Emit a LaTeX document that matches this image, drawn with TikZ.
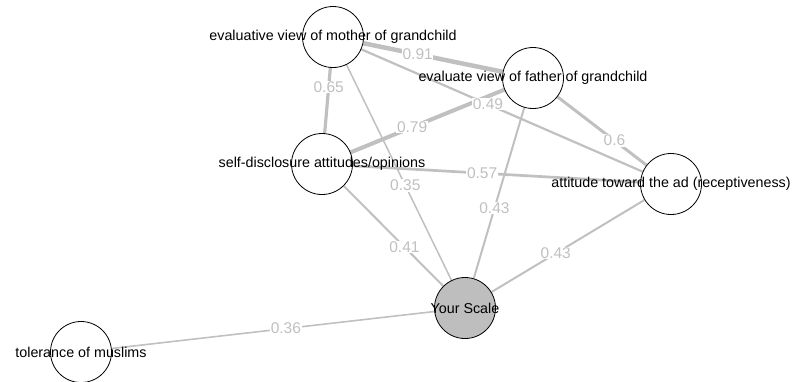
\documentclass[tikz,border=0pt]{standalone}
\usepackage{fontspec}
\setmainfont{Liberation Sans}
\usetikzlibrary{backgrounds}
\definecolor{EdgeGray}{RGB}{192,192,192}
\definecolor{ScaleGray}{RGB}{190,190,190}

\begin{document}
\begin{tikzpicture}[x=1pt,y=-1pt,
  var/.style={circle,draw=black,line width=0.8pt,fill=white,minimum size=61pt,inner sep=0pt},
  txt/.style={font=\fontsize{14.3}{16}\selectfont,inner sep=0pt},
  wt/.style={font=\fontsize{15.5}{17}\selectfont,text=EdgeGray,fill=white,inner sep=0.6pt}]
\useasboundingbox (0,0) rectangle (792,381);
\node[var,label={[txt]center:evaluative view of mother of grandchild}] (mom) at (333,37) {};
\node[var,label={[txt]center:evaluate view of father of grandchild}] (dad) at (533,78) {};
\node[var,label={[txt]center:self-disclosure attitudes/opinions}] (self) at (322,164) {};
\node[var,label={[txt]center:attitude toward the ad (receptiveness)}] (ad) at (671,184) {};
\node[var,fill=ScaleGray,label={[txt]center:Your Scale}] (your) at (465,308) {};
\node[var,label={[txt]center:tolerance of muslims}] (tol) at (81,352) {};
% weighted edges
\begin{scope}[on background layer]
\foreach \a/\b/\w/\v/\p in {mom/dad/4.5/0.91/.39,mom/self/3.2/0.65/.29,self/dad/4/0.79/.40,
  mom/ad/2.2/0.49/.45,dad/ad/3/0.6/.64,self/ad/2.7/0.57/.45,mom/your/1.5/0.35/.56,
  dad/your/2/0.43/.59,self/your/2/0.41/.61,ad/your/2/0.43/.58,tol/your/1.6/0.36/.54}{
\draw[EdgeGray,line width=\w pt] (\a)--(\b) node[wt,pos=\p]{\v};}
\end{scope}
\end{tikzpicture}
\end{document}
